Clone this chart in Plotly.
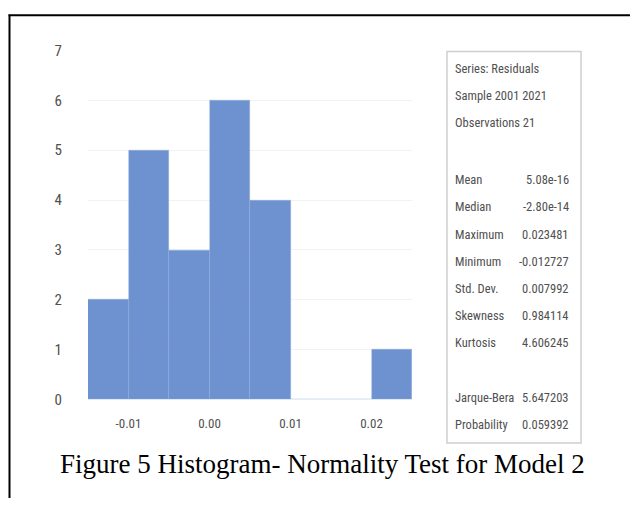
import plotly.graph_objects as go

W, H = 630, 507

# Data
bin_centers = [-0.0125, -0.0075, -0.0025, 0.0025, 0.0075, 0.0125, 0.0175, 0.0225]
counts = [2, 5, 3, 6, 4, 0, 0, 1]
bin_width = 0.005
x_ticks = [-0.01, 0.00, 0.01, 0.02]
x_tick_labels = ["-0.01", "0.00", "0.01", "0.02"]
y_ticks = [0, 1, 2, 3, 4, 5, 6, 7]

header_lines = ["Series: Residuals", "Sample 2001 2021", "Observations 21"]
stat_names = ["Mean", "Median", "Maximum", "Minimum", "Std. Dev.", "Skewness", "Kurtosis"]
stat_values = ["5.08e-16", "-2.80e-14", "0.023481", "-0.012727", "0.007992", "0.984114", "4.606245"]
test_names = ["Jarque-Bera", "Probability"]
test_values = ["5.647203", "0.059392"]
caption = "Figure 5 Histogram- Normality Test for Model 2"


def px(x):
    return x / W


def py(y):
    return 1 - y / H


narrow = "Liberation Sans Narrow, Roboto Condensed, Arial Narrow, sans-serif"
grey = "#505050"

fig = go.Figure()
fig.add_trace(go.Bar(
    x=bin_centers, y=counts, width=[bin_width] * len(counts),
    marker=dict(color="#6d92cf", line=dict(color="rgba(140,170,220,0.6)", width=0.6)),
    showlegend=False,
))

fig.update_layout(
    width=W, height=H,
    margin=dict(l=0, r=0, t=0, b=0),
    paper_bgcolor="white", plot_bgcolor="white",
    xaxis=dict(domain=[px(88), px(412)], range=[-0.015, 0.025],
               tickvals=x_ticks, ticktext=x_tick_labels,
               showgrid=False, zeroline=False, showline=False,
               ticks="", ticklabelstandoff=14,
               tickfont=dict(family=narrow, size=13, color=grey)),
    yaxis=dict(domain=[py(405), py(43)], range=[0, 7],
               tickvals=y_ticks, showgrid=True, gridcolor="#f2f2f2", gridwidth=1,
               zeroline=False, showline=False, ticks="",
               ticklabelstandoff=25,
               tickfont=dict(family=narrow, size=15, color=grey)),
    bargap=0,
)

shapes = [
    # frame
    dict(type="line", xref="paper", yref="paper", x0=px(8.5), x1=1, y0=py(6.5), y1=py(6.5),
         line=dict(color="black", width=2)),
    dict(type="line", xref="paper", yref="paper", x0=px(9.5), x1=px(9.5), y0=py(6), y1=0,
         line=dict(color="black", width=2)),
    # stats box
    dict(type="rect", xref="paper", yref="paper", x0=px(447), x1=px(581), y0=py(44), y1=py(450),
         line=dict(color="#cfcfcf", width=1.5), fillcolor="white"),
]
fig.update_layout(shapes=shapes)

ann = []
y = 62
for t in header_lines:
    ann.append(dict(x=px(453), y=py(y), text=t))
    y += 28
y = 177
for n, v in zip(stat_names, stat_values):
    ann.append(dict(x=px(453), y=py(y), text=n))
    ann.append(dict(x=px(571), y=py(y), text=v, xanchor="right"))
    y += 28.2
y = 403
for n, v in zip(test_names, test_values):
    ann.append(dict(x=px(453), y=py(y), text=n))
    ann.append(dict(x=px(571), y=py(y), text=v, xanchor="right"))
    y += 27.5

annotations = []
for a in ann:
    d = dict(xref="paper", yref="paper", showarrow=False, yanchor="middle",
             xanchor=a.get("xanchor", "left"), x=a["x"], y=a["y"], text=a["text"],
             font=dict(family=narrow, size=12.5, color=grey))
    annotations.append(d)

annotations.append(dict(xref="paper", yref="paper", showarrow=False, x=px(322), y=py(472),
                        xanchor="center", yanchor="middle", text=caption,
                        font=dict(family="Liberation Serif, Times New Roman, serif", size=27, color="black")))
fig.update_layout(annotations=annotations)

fig.write_html("out.html")
